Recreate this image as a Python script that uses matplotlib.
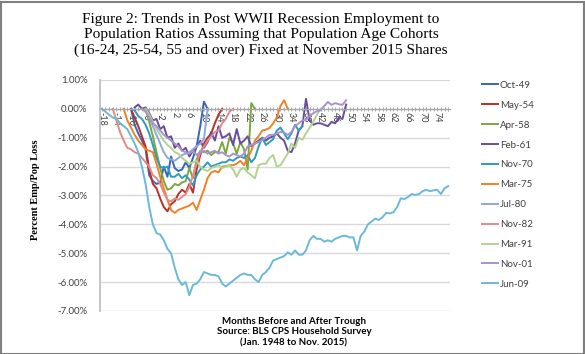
import numpy as np
import matplotlib
matplotlib.use("Agg")
import matplotlib.pyplot as plt
from matplotlib.ticker import FixedLocator, MultipleLocator, FuncFormatter
from matplotlib.patches import Rectangle

# ---------------- data (percent emp/pop loss vs months from trough) ----------------
labels = ["Oct-49", "May-54", "Apr-58", "Feb-61", "Nov-70", "Mar-75",
          "Jul-80", "Nov-82", "Mar-91", "Nov-01", "Jun-09"]
colors = ["#3867B6", "#B7312C", "#7BA83C", "#6B4C9A", "#2C9BBF", "#F08225",
          "#8EA9DB", "#E3898A", "#B1D38F", "#A794CB", "#6BB9D8"]

oct49_start = -10
oct49 = [0.0, -0.55, -0.85, -1.1, -1.4, -2.3, -2.5, -2.6, -2.55, -2.0, -2.35,
         -1.65, -2.05, -2.15, -2.1, -1.85, -2.05, -1.7, -1.3, -0.6, 0.25, 0.0]

may54_start = -10
may54 = [0.0, -0.3, -0.6, -0.95, -1.3, -2.1, -2.6, -2.75, -3.1, -3.4, -3.55,
         -3.3, -3.2, -2.95, -2.8, -2.9, -2.6, -2.9, -2.1, -1.6, -1.2, -1.0,
         -0.85, -0.5, -0.2, 0.0]

apr58_start = -6
apr58 = [0.0, -0.45, -0.95, -1.5, -2.05, -2.5, -2.8, -2.75, -2.6, -2.65, -2.55,
         -2.5, -2.05, -2.4, -1.75, -1.45, -1.5, -1.45, -1.6, -1.5, -1.5, -1.15,
         -1.55, -1.0, -1.2, -1.55, -1.15, -1.4, -2.1, 0.2, 0.0]

feb61_start = -9
feb61 = [0.05, 0.15, 0.0, 0.05, -0.15, -0.4, -0.35, -0.7, -0.6, -1.0, -0.95,
         -1.35, -1.2, -1.45, -1.35, -1.65, -1.45, -1.3, -1.1, -1.35, -1.15,
         -0.8, -1.1, -0.6, -1.0, -0.95, -0.85, -1.25, -0.7, -1.2, -1.1, -0.95,
         -1.3, -1.2, -1.1, -1.0, -1.1, -1.0, -0.95, -0.85, -1.0, -1.1, -1.45,
         -1.5, -1.2, -0.75, -0.6, 0.35, -0.4, -0.55, -0.5, -0.5, -0.55, -0.6,
         -0.45, -0.5, -0.3, -0.35, 0.15]

nov70_start = -10
nov70 = [0.0, -0.05, -0.25, -0.35, -0.55, -0.85, -1.25, -1.7, -2.0, -2.05, -2.0,
         -2.35, -2.35, -2.25, -2.4, -2.3, -2.45, -2.65, -2.3, -2.1, -2.0, -1.85,
         -2.0, -1.95, -1.9, -1.85, -1.85, -1.75, -1.8, -1.7, -1.65, -1.7, -1.6,
         -1.85, -1.7, -1.3, -1.0, -1.25, -1.15, -1.05, -0.75, -0.65, -0.85,
         -1.05, -0.85, -0.55, -0.75, -0.6]

mar75_start = -12
mar75 = [0.0, -0.4, -0.65, -0.9, -1.1, -1.25, -1.4, -1.45, -1.5, -1.9, -2.35,
         -2.75, -3.15, -3.5, -3.6, -3.5, -3.45, -3.4, -3.35, -3.25, -3.5, -3.15,
         -2.8, -2.4, -2.2, -2.15, -2.2, -2.0, -1.98, -1.95, -1.95, -1.9, -1.8,
         -1.95, -1.7, -1.45, -1.1, -0.95, -0.75, -0.72, -0.66, -0.5, -0.3, 0.1,
         0.3, 0.0]

jul80_start = -6
jul80 = [0.0, -0.3, -0.6, -0.9, -1.2, -1.5, -1.7, -1.75, -1.8, -1.7, -1.6,
         -1.55, -1.5, -1.4, -1.3, -1.2, -1.05, 0.0]

nov82_start = -15
nov82 = [0.0, -0.4, -0.8, -1.1, -1.35, -1.4, -1.5, -1.55, -1.7, -1.85, -2.0,
         -2.3, -2.4, -2.6, -2.9, -3.15, -3.2, -3.1, -3.15, -3.05, -2.95, -2.7,
         -2.3, -1.9, -1.5, -1.3, -1.1, -0.95, -0.8, -0.75, -0.5, -0.35, -0.1,
         0.0]

mar91_start = -6
mar91 = [0.0, -0.2, -0.45, -0.7, -0.9, -1.1, -1.25, -1.35, -1.5, -1.55, -1.7,
         -1.8, -1.9, -1.85, -1.8, -2.0, -2.1, -2.15, -2.05, -2.0, -1.95, -2.05,
         -2.0, -1.95, -2.1, -2.35, -2.1, -2.05, -2.2, -2.3, -2.4, -1.95, -1.9,
         -1.9, -1.7, -1.6, -2.0, -1.95, -1.75, -1.55, -1.2, -1.35, -1.0, -1.07,
         -0.85, -0.65, -0.45, -0.2, 0.0]

nov01_start = -7
nov01 = [0.0, -0.1, -0.3, -0.5, -0.6, -0.75, -0.9, -1.0, -1.1, -1.2, -1.3,
         -1.45, -1.5, -1.55, -1.45, -1.6, -1.5, -1.45, -1.55, -1.5, -1.45,
         -1.55, -1.5, -1.6, -1.65, -1.55, -1.6, -1.65, -1.55, -1.3, -1.25,
         -1.2, -1.15, -1.07, -1.0, -0.9, -0.9, -0.85, -0.8, -0.82, -0.9, -0.8,
         -0.6, -0.5, -0.4, -0.38, -0.25, -0.15, -0.08, -0.05, 0.1, 0.24, 0.14,
         0.2, 0.16, 0.14, 0.3]

jun09_start = -18
jun09 = [0.0, -0.1, -0.2, -0.3, -0.35, -0.5, -0.6, -0.7, -0.95, -1.2, -1.5,
         -2.0, -2.6, -3.4, -4.0, -4.3, -4.35, -4.55, -4.85, -5.0, -5.5, -5.9,
         -6.1, -6.0, -6.45, -6.1, -6.05, -5.9, -5.65, -5.7, -5.75, -5.75, -5.8,
         -6.05, -6.15, -6.05, -5.95, -5.85, -5.75, -5.7, -5.75, -5.75, -5.9,
         -6.0, -5.75, -5.65, -5.5, -5.25, -5.2, -5.15, -5.1, -4.97, -5.05,
         -4.9, -5.05, -5.05, -4.9, -4.55, -4.4, -4.5, -4.5, -4.6, -4.55, -4.6,
         -4.5, -4.45, -4.4, -4.4, -4.45, -4.45, -4.9, -4.4, -4.25, -4.0, -3.9,
         -3.8, -3.85, -3.75, -3.6, -3.62, -3.58, -3.4, -3.1, -3.12, -3.05,
         -2.95, -2.98, -2.95, -2.85, -2.8, -2.85, -2.82, -2.8, -2.95, -2.75,
         -2.68]

series = [(oct49_start, oct49), (may54_start, may54), (apr58_start, apr58),
          (feb61_start, feb61), (nov70_start, nov70), (mar75_start, mar75),
          (jul80_start, jul80), (nov82_start, nov82), (mar91_start, mar91),
          (nov01_start, nov01), (jun09_start, jun09)]

month_min, month_max = -18, 77
xtick_labels = list(range(-18, 78, 4))
ytick_values = list(range(-7, 2))

# ---------------- figure ----------------
W, H = 585, 354
fig = plt.figure(figsize=(W / 100, H / 100), dpi=100)
fig.patch.set_facecolor("white")

ax = fig.add_axes([100 / W, 1 - 311 / H, 350 / W, 231 / H])

for (start, vals), lab, col in zip(series, labels, colors):
    m = np.arange(start, start + len(vals))
    ax.plot(m, vals, color=col, lw=1.4, label=lab, solid_joinstyle="round")

ax.set_xlim(month_min - 0.5, month_max + 0.5)
ax.set_ylim(-7, 1)

ax.set_yticks(ytick_values)
ax.yaxis.set_major_formatter(FuncFormatter(lambda v, p: f"{v:.2f}%"))
ax.grid(axis="y", color="#D9D9D9", lw=1.0)
ax.set_axisbelow(True)

for s in ["top", "right"]:
    ax.spines[s].set_visible(False)
ax.spines["left"].set_color("#BFBFBF")
ax.spines["left"].set_linewidth(1.3)
ax.spines["bottom"].set_position(("data", 0))
ax.spines["bottom"].set_color("#A6A6A6")
ax.spines["bottom"].set_linewidth(0.9)

ax.xaxis.set_major_locator(FixedLocator(xtick_labels))
ax.xaxis.set_minor_locator(MultipleLocator(1))
ax.set_xticklabels([str(v) for v in xtick_labels])

tick_font = "Lato"
ax.tick_params(axis="x", which="both", direction="inout", length=3.0,
               color="#A6A6A6", width=0.7, labelsize=6.5, pad=1,
               labelrotation=-90, labelcolor="#404040")
ax.tick_params(axis="y", which="both", length=0, labelsize=7, pad=9,
               labelcolor="#404040")
for t in ax.get_xticklabels() + ax.get_yticklabels():
    t.set_fontfamily(tick_font)

# legend
leg = ax.legend(loc="upper left", bbox_to_anchor=(478 / W, 1 - 77 / H),
                bbox_transform=fig.transFigure, frameon=False,
                prop={"family": tick_font, "size": 7}, handlelength=1.7,
                handletextpad=0.15, labelspacing=1.12, borderaxespad=0)
for t in leg.get_texts():
    t.set_color("#404040")

# title
fig.text(261 / W, 1 - 35 / H,
         "Figure 2: Trends in Post WWII Recession Employment to\n"
         "Population Ratios Assuming that Population Age Cohorts\n"
         "(16-24, 25-54, 55 and over) Fixed at November 2015 Shares",
         ha="center", va="center", fontsize=11.1, family="Liberation Serif",
         linespacing=1.25, color="black")

# y label
fig.text(36 / W, 1 - 190 / H, "Percent Emp/Pop Loss", rotation=90,
         ha="center", va="center", fontsize=7.5, fontweight="bold",
         family="Liberation Serif")

# x label
fig.text(294 / W, 1 - 332 / H,
         "Months Before and After Trough\nSource: BLS CPS Household Survey\n(Jan. 1948 to Nov. 2015)",
         ha="center", va="center", fontsize=7, fontweight="bold",
         family=tick_font, linespacing=1.25, color="black")

# frame around chart
fig.patches.append(Rectangle((0.5 / W, 0.5 / H), 1 - 2 / W, 1 - 2 / H,
                             transform=fig.transFigure, fill=False,
                             edgecolor="#7F7F7F", lw=1.5))

fig.savefig("out.png", dpi=100, facecolor="white")
